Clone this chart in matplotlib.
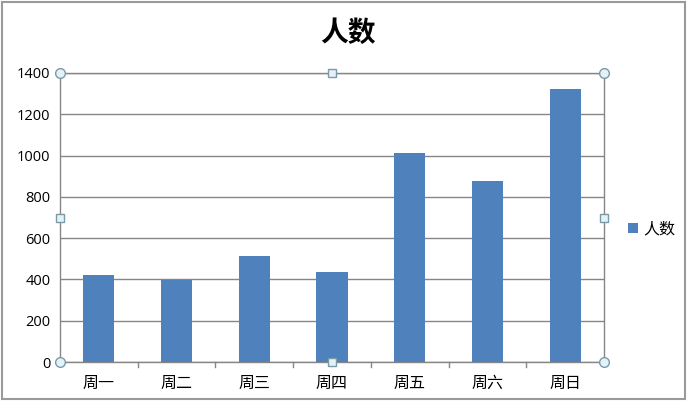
import matplotlib.pyplot as plt
from matplotlib.patches import Rectangle

plt.rcParams['font.family'] = ['Noto Sans CJK SC', 'DejaVu Sans']

days = ["周一", "周二", "周三", "周四", "周五", "周六", "周日"]
counts = [420, 398, 513, 435, 1013, 877, 1324]
series_name = "人数"
y_ticks = [0, 200, 400, 600, 800, 1000, 1200, 1400]

bar_color = "#4F81BD"
grid_color = "#868686"

fig = plt.figure(figsize=(6.87, 4.01), dpi=100)
ax = fig.add_axes([60 / 687, 1 - 362 / 401, 544 / 687, 289 / 401])

x = range(len(days))
ax.bar(x, counts, width=0.4, color=bar_color, label=series_name, zorder=3)

ax.set_xlim(-0.5, len(days) - 0.5)
ax.set_ylim(0, 1400)
ax.set_yticks(y_ticks)
ax.set_yticklabels([str(v) for v in y_ticks], fontsize=10.5, family='Open Sans')
ax.set_xticks(list(x))
ax.set_xticklabels(days, fontsize=11.5)
ax.yaxis.grid(True, color=grid_color, linewidth=1, zorder=0)
ax.tick_params(axis='y', length=0, pad=7)
ax.tick_params(axis='x', length=0, pad=9)
# category separator ticks below axis
for b in [i + 0.5 for i in range(len(days) - 1)]:
    ax.plot([b, b], [0, -25], color=grid_color, lw=1, clip_on=False, zorder=2)

for side in ax.spines.values():
    side.set_color(grid_color)
    side.set_linewidth(1)

# selection handles of the plot area
handle_kw = dict(clip_on=False, zorder=5, markeredgecolor="#7a9aaa",
                 markerfacecolor="#e4f2f7", markeredgewidth=1)
for hx, hy in [(-0.5, 0), (-0.5, 1400), (6.5, 0), (6.5, 1400)]:
    ax.plot(hx, hy, marker='o', markersize=7, **handle_kw)
for hx, hy in [(3, 0), (3, 1400), (-0.5, 700), (6.5, 700)]:
    ax.plot(hx, hy, marker='s', markersize=6, **handle_kw)

fig.suptitle(series_name, x=348 / 687, y=1 - 33 / 401, va='center',
             fontsize=20, fontweight='bold')

ax.legend(loc='center left', bbox_to_anchor=(614 / 687, 1 - 229 / 401),
          bbox_transform=fig.transFigure, frameon=False, fontsize=11.5,
          handlelength=0.6, handleheight=0.6, handletextpad=0.35)

fig.patches.append(Rectangle((0.003, 0.005), 0.994, 0.99, transform=fig.transFigure,
                             fill=False, edgecolor="#9a9a9a", linewidth=1.5))

fig.savefig("out.png", dpi=100)
